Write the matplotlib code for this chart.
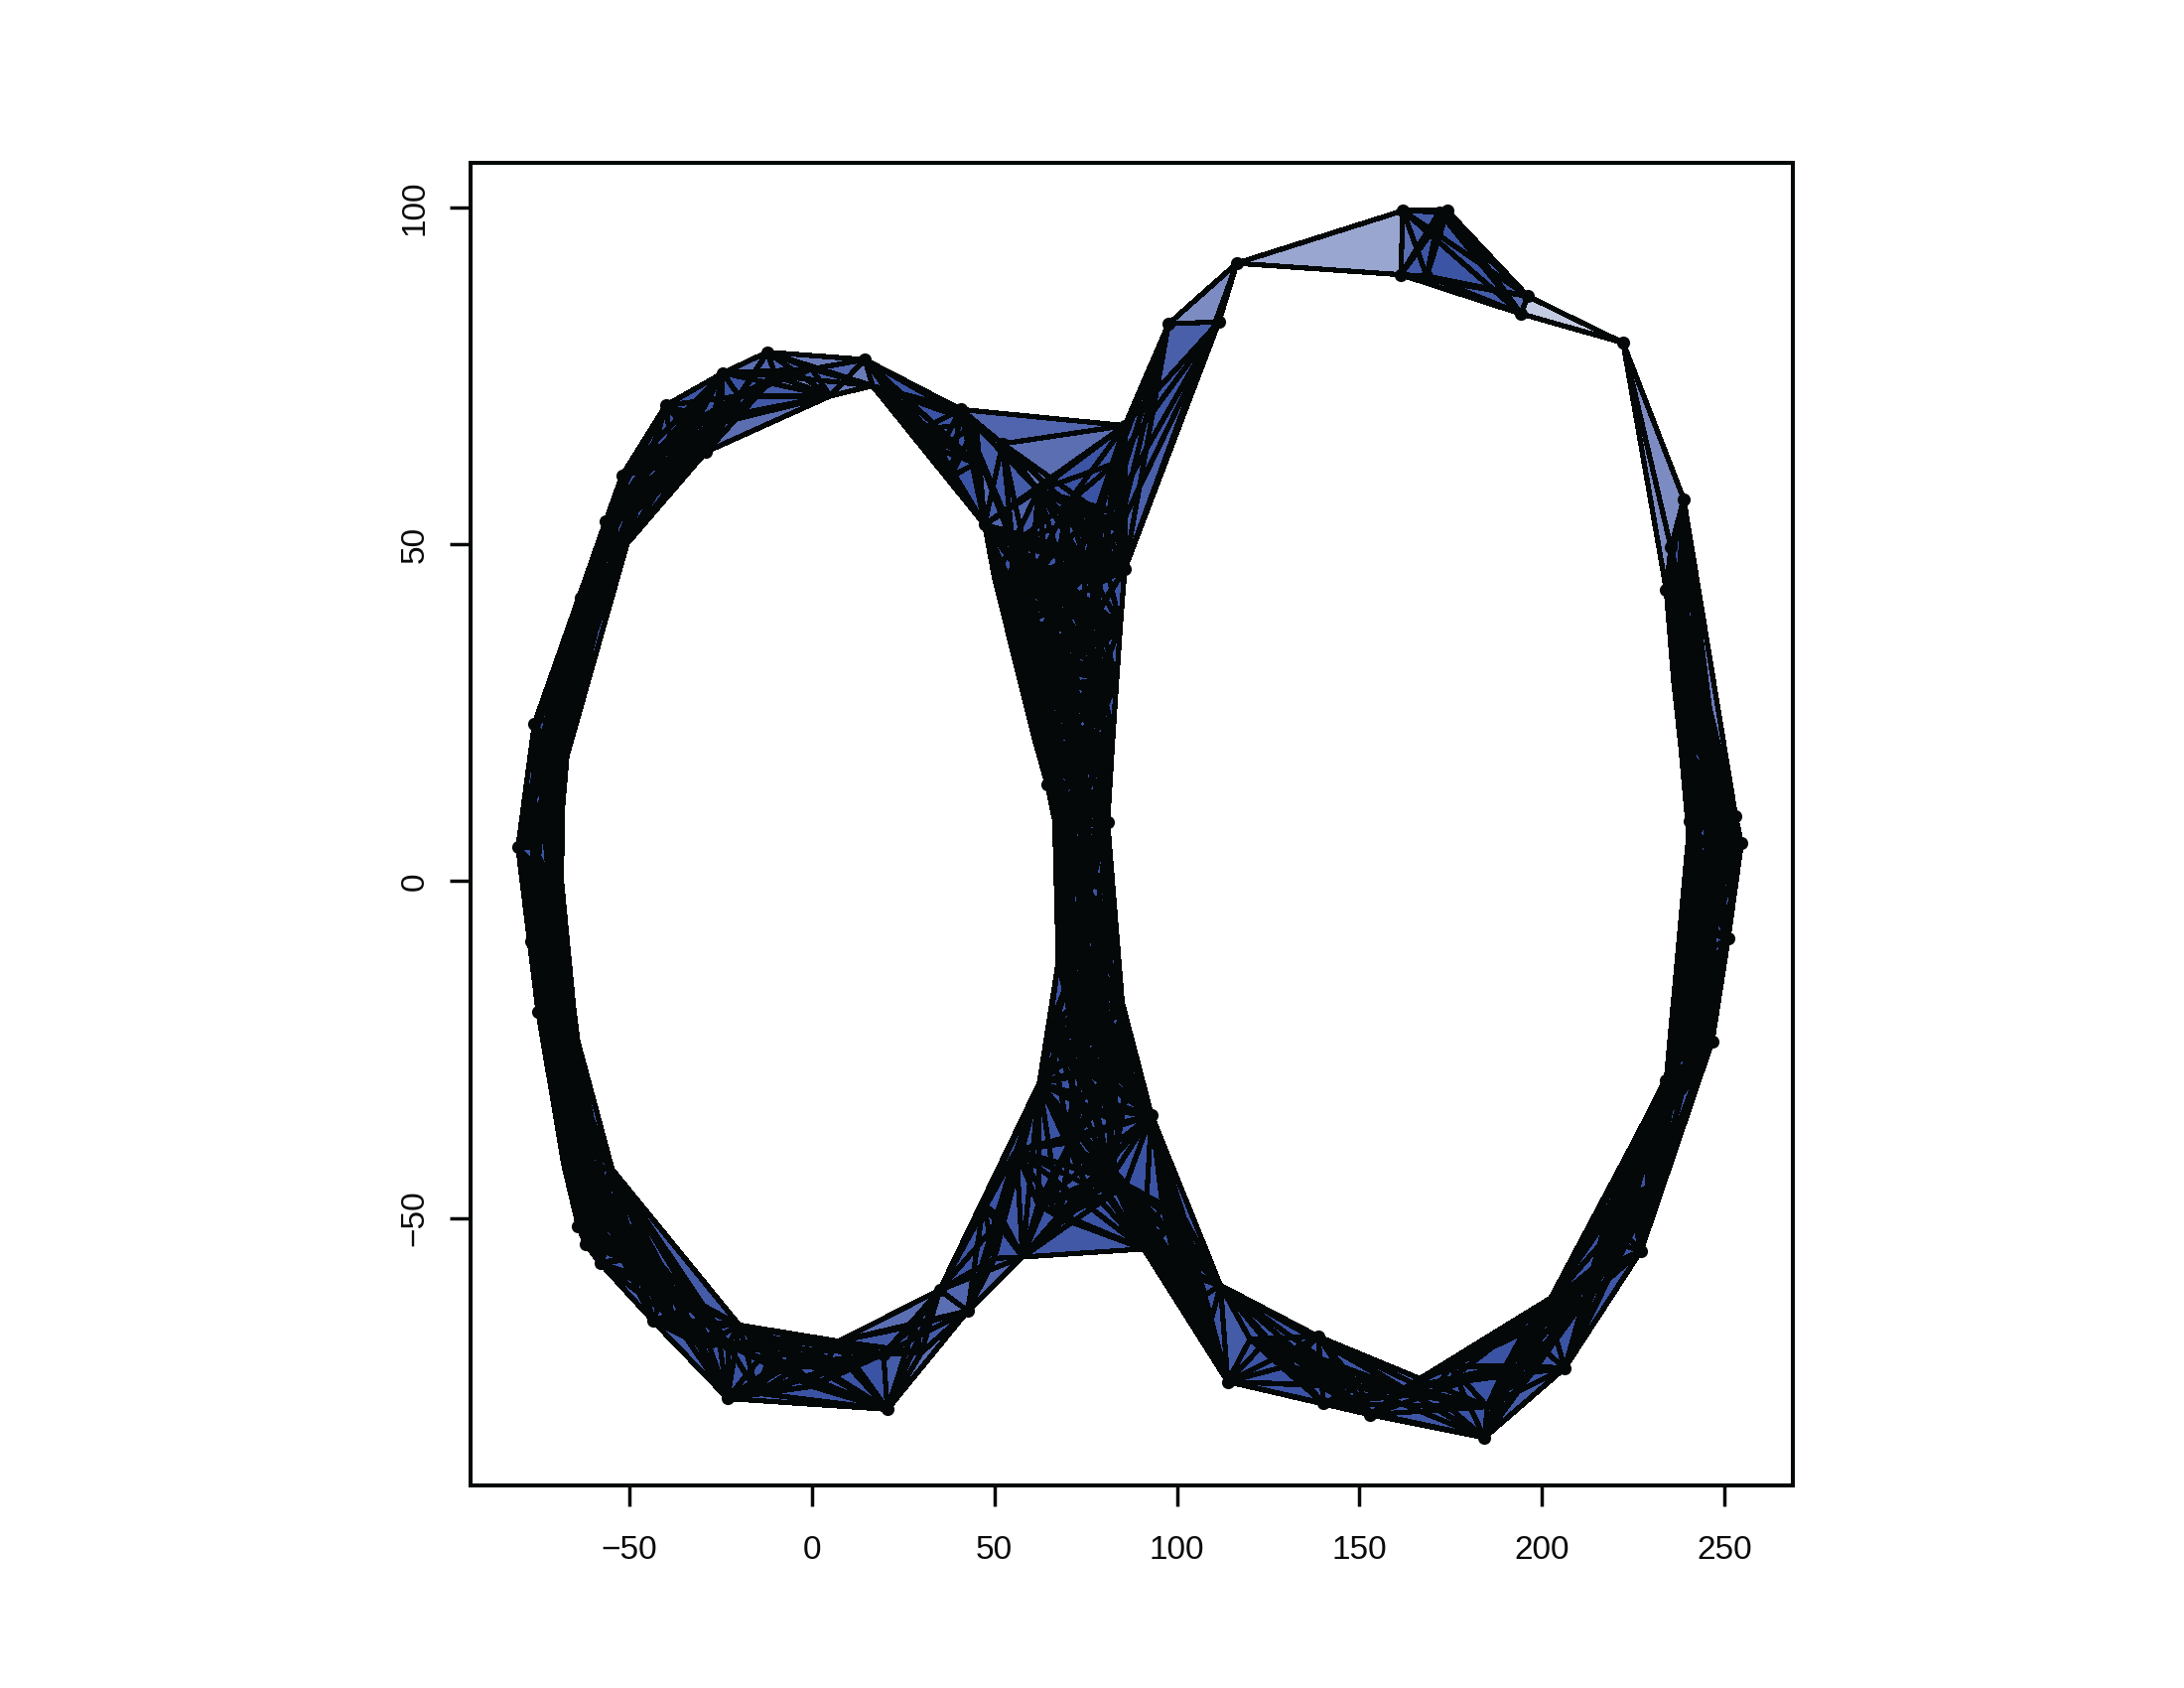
import itertools
import matplotlib
matplotlib.use('Agg')
import matplotlib.pyplot as plt
from matplotlib.collections import PolyCollection, LineCollection

# points, going round the figure eight
outer_x = [40.8, 14.5, 16.6, -12.2, -24.4, -29, -40, -33, -52, -56.5,
           -50.6, -63.4, -60, -76, -68, -68.3, -72, -80.5, -77, -75,
           -68.7, -72, -65.3, -64.2, -70, -54.7, -64, -62, -58, -43.5,
           -19.9, -23.1, -23, 7.3, 19.6, 20.7, 35, 42.7, 57.7, 62.3,
           70.7, 90.9, 93, 82, 72, 80, 68.3, 82.8, 68.7, 81,
           64.5, 74, 79, 70, 85.7, 47.3, 52.2, 85.7, 97.7, 111.5,
           116.4, 161.9, 161.3, 168.4, 171.9, 174.1, 196.1, 194.2, 222.2, 238.8,
           235.3, 234, 245, 238, 240.5, 253, 254.6, 245, 251, 240,
           246.6, 234, 240, 227.1, 222, 201.3, 206.2, 184.2, 161.9, 152.9,
           140.1, 138.7, 113.9, 111.9, 99]
outer_y = [70, 77.4, 73.5, 78.5, 75.4, 63.7, 70.6, 68, 60.2, 53.4,
           50.1, 42, 36, 23.4, 16.8, 10.9, 20, 5, -8.9, -19.4,
           -3, 0, -18.6, -23.6, -30, -42.8, -51.2, -53.9, -56.7, -65.3,
           -65.9, -76.8, -68.8, -68.3, -70.2, -78.4, -60.7, -63.8, -55.8, -30,
           -38.8, -54.6, -34.7, -44, -20, -22, -4, -10, 5, 8.7,
           14.3, 20, 30, 32, 46.3, 52.9, 64.9, 67.6, 82.7, 83,
           91.7, 99.5, 90, 89.8, 99.3, 99.5, 86.8, 84.2, 79.9, 56.7,
           49.5, 43.3, 19, 25, 8.9, 9.7, 5.6, 0, -8.5, -12,
           -23.8, -29.6, -28, -54.9, -42, -63, -72.3, -82.6, -75.4, -79.2,
           -77.5, -67.6, -74.3, -60, -50]

# outer points on the hole edges or inside the band, no dot shows there
no_dot = [2, 10, 12, 14, 15, 20, 22, 23, 25, 30, 33, 38, 39, 41, 84, 88, 93, 94, 43, 46, 47]

# estimated points hidden inside the black bands, numbered on from 95
inner_x = [-55, -59, -62, -66, -68, -71, -74, -70, -76, -71,
           -74, -70, -67, -71, -66, -62, -68, -60, -62, -56,
           -58, -52, -52, -48, -46, -40, -38, -32, -30, -26,
           50, 54, 58, 61, 66.5, 67.5, 65, 84.5, 83.5, 82.5,
           81.5, 82, 85, 88, 55, 60, 65, 70, 75, 80,
           62, 68, 74, 78, 66, 72, 76, 70, 75, 72,
           78, 70, 76, 80, 74, 82, 84, 78, 83, 82,
           84, 78, 70, 62, 237, 240, 236, 243, 238, 246,
           241, 249, 241, 248, 240, 247, 243, 237, 243, 238,
           230, 225, 232, 218, 222, 212, 214, 47, 52, 56,
           50, 62, 68, 75, 86, 96, 102, 100, 106, 108,
           125, 120, 130, 150, 170, 175, 190, 195, 198,
           185, -10, 0, 10, -15, 28, 30, -10, -20, -10,
           0, 5, -45, -38, -48, -25, 30, 25, 35, 38,
           45, 45]
inner_y = [47, 42, 35, 30, 25, 28, 12, 8, 5, -6,
           -12, -14, -22, -24, -35, -33, -42, -42, -48, -48,
           -52, -50, -56, -56, -60, -60, -65, -63, -69, -66,
           45, 37, 28, 21, 9, -12, -22, 38, 30, 22,
           15, -2, -18, -26, 50, 45, 40, 44, 47, 48,
           32, 28, 36, 40, 20, 14, 10, 8, 0, -8,
           -6, -15, -16, -14, -28, -28, -36, -34, 62, 55,
           52, 55, 56, 58, 38, 34, 30, 28, 20, 16,
           14, 12, 2, 3, -5, -8, -16, -20, -28, -25,
           -38, -40, -44, -50, -54, -62, -58, -48, -50, -40,
           -56, -48, -50, -45, -45, -48, -50, -58, -62, -68,
           -68, -68, -72, -75, -76, -72, -72, -67, -72,
           -78, -72, -75, -72, -76, -66, -70, -68, 72, 75,
           76, 72, 62, 62, 55, 68, 67, 72, 64, 60,
           62, 68]

# groups of neighbouring points, every triple in a group is one triangle
clusters = [
    [0, 1, 2, 230, 231, 232, 233, 234, 235, 55],
    [1, 2, 3, 223, 224, 225], [4, 5, 222, 223, 229, 7, 225], [3, 4, 222, 223, 224], [3, 4, 5, 223],
    [4, 5, 6, 7, 8, 9, 10, 226, 227, 228, 229, 222],
    [8, 9, 10, 11, 95, 96, 226, 228],
    [9, 10, 11, 12, 13, 14, 95, 96, 97, 98, 99, 100],
    [11, 13, 14, 15, 16, 17, 21, 98, 99, 100, 101, 102],
    [13, 15, 16, 17, 18, 20, 21, 101, 102, 103, 104],
    [17, 18, 19, 20, 21, 22, 24, 102, 103, 104, 105, 106, 107, 108],
    [19, 22, 23, 24, 105, 106, 107, 108, 109, 110, 111, 112],
    [23, 24, 25, 26, 27, 109, 110, 111, 112, 113, 114],
    [25, 26, 27, 28, 112, 113, 114, 115, 116, 117, 118],
    [25, 28, 29, 116, 117, 118, 119, 120, 121, 122],
    [25, 29, 30, 120, 121, 122, 123, 124, 31, 32],
    [30, 31, 32, 33, 34, 35, 215, 216, 217, 218, 221],
    [33, 34, 35, 36, 37, 219, 220],
    [36, 37, 38, 39, 192, 193, 194, 195],
    [38, 39, 40, 41, 43, 42, 196, 197, 198, 199, 194],
    [39, 40, 42, 43, 44, 45, 159, 160, 161, 162, 131, 138],
    [41, 42, 93, 92, 94, 43, 200, 201, 202, 203, 204, 199],
    [130, 131, 137, 138, 44, 45, 156, 157, 158, 159, 160, 39, 42],
    [46, 47, 48, 49, 153, 154, 155, 156, 157, 158, 129, 130, 136, 137],
    [48, 49, 50, 51, 129, 135, 150, 151, 152, 153, 134, 149],
    [50, 128, 127, 145, 146, 149, 51, 53, 52, 133, 134, 135, 150],
    [126, 127, 145, 146, 53, 52, 147, 132, 133, 141, 142, 148],
    [55, 125, 126, 139, 140, 141, 142, 143, 144, 54, 132, 147, 148],
    [55, 125, 126, 127, 128, 50, 145, 146, 149, 141, 139],
    [125, 126, 127, 140, 141, 145, 142, 147, 53],
    [0, 55, 56, 57], [0, 55, 139, 140, 168, 56], [56, 168, 167, 166, 57],
    [0, 56, 57], [0, 56, 57], [0, 56, 57], [0, 56, 57],
    [139, 140, 141, 142, 143, 168, 167, 166],
    [57, 163, 164, 165, 166, 167, 168, 143, 144, 54],
    [54, 57, 58, 59, 163, 164, 165], [54, 58, 59, 60], [58, 59, 60],
    [60, 61, 62], [60, 61, 62],
    [61, 62, 63, 64, 65, 66, 67], [66, 67, 68], [68, 69, 70, 71], [68, 69, 71],
    [69, 70, 71, 169, 170, 171, 172, 73], [69, 70, 172, 174, 176, 75],
    [71, 73, 72, 169, 170, 171, 172, 173, 174, 175, 75],
    [72, 73, 74, 75, 173, 174, 175, 176, 177, 178, 76],
    [74, 75, 76, 77, 78, 79, 177, 178, 179, 180, 72],
    [74, 77, 78, 79, 80, 81, 82, 179, 180, 181, 182, 183, 184],
    [81, 80, 82, 83, 84, 183, 184, 185, 186, 187],
    [81, 84, 83, 85, 86, 185, 186, 187, 188, 189, 190, 191],
    [85, 86, 87, 88, 190, 191, 211, 212, 213, 214],
    [87, 88, 89, 90, 91, 208, 209, 214], [85, 87, 88, 209, 210, 214, 211],
    [88, 89, 90, 91, 92, 93, 205, 206, 207, 208],
]

x_ticks = [-50, 0, 50, 100, 150, 200, 250]
y_ticks = [-50, 0, 50, 100]
x_labels = ['\u221250', '0', '50', '100', '150', '200', '250']
y_labels = ['\u221250', '0', '50', '100']

plt.rcParams['font.family'] = ['Liberation Sans', 'DejaVu Sans']

fig = plt.figure(figsize=(22, 17), dpi=100)
ax = fig.add_axes([474 / 2200, 1 - 1496 / 1700, 1332 / 2200, 1332 / 1700])

pts = list(zip(outer_x + inner_x, outer_y + inner_y))
triangles = []
edges = set()
for group in clusters:
    for a, b, c in itertools.combinations(group, 3):
        triangles.append([pts[a], pts[b], pts[c]])
    for a, b in itertools.combinations(sorted(group), 2):
        edges.add((a, b))

ax.add_collection(PolyCollection(triangles, facecolors='#3a53a4', edgecolors='none',
                                 alpha=0.3, antialiaseds=False, zorder=1))
segments = [[pts[a], pts[b]] for a, b in sorted(edges)]
ax.add_collection(LineCollection(segments, colors='#050808', linewidths=3,
                                 antialiaseds=False, zorder=2))
dots = [i for i in range(len(outer_x)) if i not in no_dot]
ax.scatter([outer_x[i] for i in dots], [outer_y[i] for i in dots], s=90,
           color='#050808', linewidths=0, zorder=3)

ax.set_xlim(-93.5, 268.7)
ax.set_ylim(-89.7, 106.6)
ax.set_xticks(x_ticks, x_labels)
ax.set_yticks(y_ticks, y_labels)
ax.tick_params(length=15, width=2.5, labelsize=24, color='#050808', labelcolor='#0a0a0a')
ax.tick_params(axis='x', pad=21)
ax.tick_params(axis='y', pad=14)
for t in ax.get_yticklabels():
    t.set_rotation(90)
    t.set_va('center')
for s in ax.spines.values():
    s.set_linewidth(2.9)
    s.set_color('#050808')

fig.savefig('out.png', dpi=100)
